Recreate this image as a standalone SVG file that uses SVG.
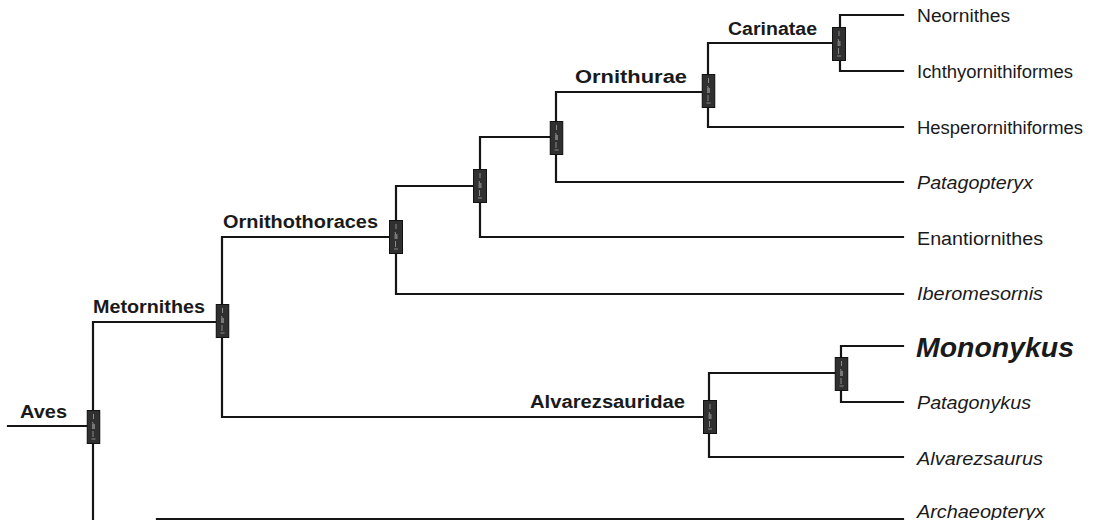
<svg xmlns="http://www.w3.org/2000/svg" xmlns:xlink="http://www.w3.org/1999/xlink" width="1096" height="520" viewBox="0 0 1096 520">
<style>
.e{fill:none;stroke:#151515;stroke-width:2.2;stroke-linecap:square}
.cl{font-family:"Liberation Sans",Arial,sans-serif;font-weight:bold;font-size:18px;fill:#1a1a1a}
.lf{font-family:"Liberation Sans",Arial,sans-serif;font-size:18px;fill:#1a1a1a}
.it{font-style:italic}
.big{font-weight:bold;font-style:italic;font-size:28.5px}
</style>
<defs>
<symbol id="bx" viewBox="0 0 14 34" width="14" height="34">
<rect x="0.5" y="0.5" width="13" height="33" fill="#303030" stroke="#111" stroke-width="1"/>
<path d="M7 4 V9 M6 12 L8 18 M6.5 21 V27 M5 29 H9" stroke="#8a8a8a" stroke-width="1" fill="none"/>
<rect x="5.5" y="14" width="3" height="5" fill="#777"/>
</symbol>
</defs>
<rect width="1096" height="520" fill="#fff"/>
<g id="connectors">
<path class="e" d="M8 426 H93"/>
<path class="e" d="M93 426 V322 H222"/>
<path class="e" d="M93 426 V521"/>
<path class="e" d="M157 519 H903"/>
<path class="e" d="M222 321 V237 H396"/>
<path class="e" d="M222 321 V417 H709"/>
<path class="e" d="M396 237 V186 H480"/>
<path class="e" d="M396 237 V294 H903"/>
<path class="e" d="M480 186 V137 H556"/>
<path class="e" d="M480 186 V237 H903"/>
<path class="e" d="M556 137 V92 H708"/>
<path class="e" d="M556 137 V182 H903"/>
<path class="e" d="M708 91 V43 H840"/>
<path class="e" d="M708 91 V127 H903"/>
<path class="e" d="M840 44 V15 H903"/>
<path class="e" d="M840 44 V71 H903"/>
<path class="e" d="M709 417 V373 H841"/>
<path class="e" d="M709 417 V457 H903"/>
<path class="e" d="M841 374 V346 H903"/>
<path class="e" d="M841 374 V402 H903"/>
</g>
<g id="n-aves"><use xlink:href="#bx" x="86.5" y="410"/><text class="cl" x="20" y="418" textLength="47" lengthAdjust="spacingAndGlyphs">Aves</text></g>
<g id="n-metornithes"><use xlink:href="#bx" x="215.5" y="304"/><text class="cl" x="93" y="313" textLength="112" lengthAdjust="spacingAndGlyphs">Metornithes</text></g>
<g id="n-ornithothoraces"><use xlink:href="#bx" x="389" y="220"/><text class="cl" x="223" y="228" textLength="155" lengthAdjust="spacingAndGlyphs">Ornithothoraces</text></g>
<g id="n-node4"><use xlink:href="#bx" x="473" y="169"/></g>
<g id="n-node5"><use xlink:href="#bx" x="549.5" y="121"/></g>
<g id="n-ornithurae"><use xlink:href="#bx" x="701.5" y="74"/><text class="cl" x="575" y="83" textLength="112" lengthAdjust="spacingAndGlyphs">Ornithurae</text></g>
<g id="n-carinatae"><use xlink:href="#bx" x="832" y="27"/><text class="cl" x="728" y="35" textLength="89" lengthAdjust="spacingAndGlyphs">Carinatae</text></g>
<g id="n-alvarezsauridae"><use xlink:href="#bx" x="703" y="400"/><text class="cl" x="530" y="408" textLength="155" lengthAdjust="spacingAndGlyphs">Alvarezsauridae</text></g>
<g id="n-monopata"><use xlink:href="#bx" x="834.5" y="357"/></g>
<g id="leaf-neornithes"><text class="lf" x="917" y="22" textLength="93" lengthAdjust="spacingAndGlyphs">Neornithes</text></g>
<g id="leaf-ichthyornithiformes"><text class="lf" x="917" y="78" textLength="156" lengthAdjust="spacingAndGlyphs">Ichthyornithiformes</text></g>
<g id="leaf-hesperornithiformes"><text class="lf" x="917" y="134" textLength="166" lengthAdjust="spacingAndGlyphs">Hesperornithiformes</text></g>
<g id="leaf-patagopteryx"><text class="lf it" x="917" y="189" textLength="116" lengthAdjust="spacingAndGlyphs">Patagopteryx</text></g>
<g id="leaf-enantiornithes"><text class="lf" x="917" y="245" textLength="126" lengthAdjust="spacingAndGlyphs">Enantiornithes</text></g>
<g id="leaf-iberomesornis"><text class="lf it" x="917" y="300" textLength="126" lengthAdjust="spacingAndGlyphs">Iberomesornis</text></g>
<g id="leaf-mononykus"><text class="lf big" x="916" y="357" textLength="158" lengthAdjust="spacingAndGlyphs">Mononykus</text></g>
<g id="leaf-patagonykus"><text class="lf it" x="917" y="409" textLength="114" lengthAdjust="spacingAndGlyphs">Patagonykus</text></g>
<g id="leaf-alvarezsaurus"><text class="lf it" x="917" y="465" textLength="126" lengthAdjust="spacingAndGlyphs">Alvarezsaurus</text></g>
<g id="leaf-archaeopteryx"><text class="lf it" x="917" y="518" textLength="128" lengthAdjust="spacingAndGlyphs">Archaeopteryx</text></g>
</svg>
